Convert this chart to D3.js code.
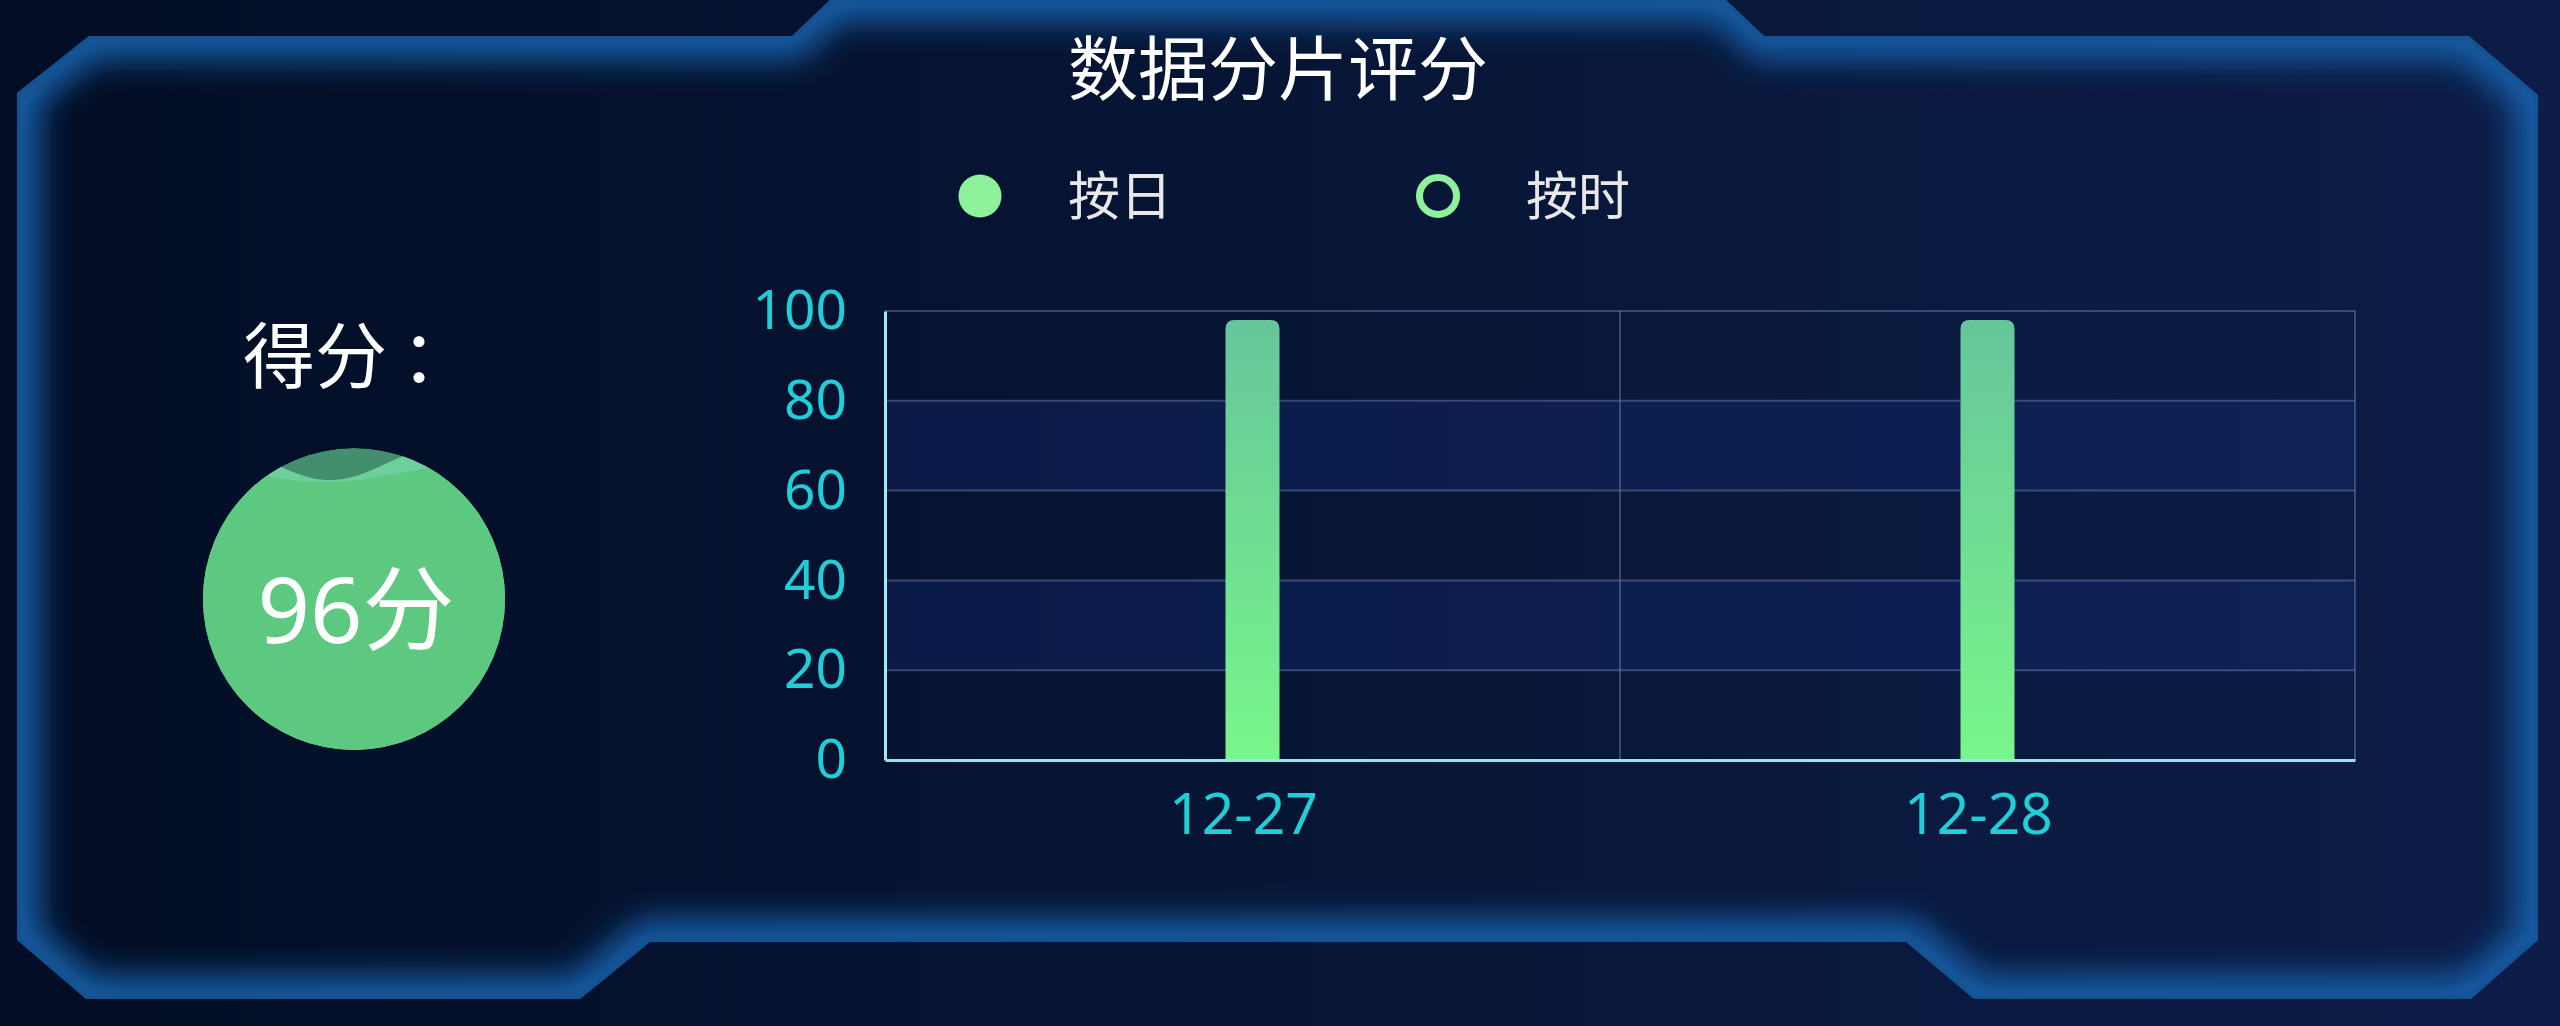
<!DOCTYPE html>
<html>
<head>
<meta charset="utf-8">
<script src="https://cdn.jsdelivr.net/npm/d3@7/dist/d3.min.js"></script>
<style>
  html, body { margin: 0; padding: 0; background: #061231; overflow: hidden; }
  svg { display: block; }
</style>
</head>
<body>
<script>
// ---------- data ----------
const chartTitle = "数据分片评分";
const legendNames = ["按日", "按时"];
const categories = ["12-27", "12-28"];
const dailyValues = [98, 98];
const hourlyValues = [];
const yTicks = [0, 20, 40, 60, 80, 100];
const scoreWord = "得分";
const scoreColon = "：";
const score = 96;

// ---------- setup ----------
const W = 2560, H = 1026;
const svg = d3.select("body").append("svg").attr("width", W).attr("height", H);
const defs = svg.append("defs");

const bg = defs.append("linearGradient").attr("id", "bgGrad")
  .attr("x1", 0).attr("y1", 0).attr("x2", 1).attr("y2", 0);
bg.append("stop").attr("offset", "0%").attr("stop-color", "#030d25");
bg.append("stop").attr("offset", "50%").attr("stop-color", "#071535");
bg.append("stop").attr("offset", "100%").attr("stop-color", "#0d1d48");

svg.append("rect").attr("width", W).attr("height", H).attr("fill", "url(#bgGrad)");

// frame outline
const framePts = [
  [17, 93], [89, 36], [792, 36], [832, -2], [1724, -2], [1764, 36], [2469, 36], [2538, 95],
  [2538, 940], [2471, 999], [1974, 999], [1906, 942], [650, 942], [580, 999], [86, 999], [17, 940]
];
const framePath = "M" + framePts.map(p => p.join(",")).join("L") + "Z";
defs.append("clipPath").attr("id", "frameClip").append("path").attr("d", framePath);
const blur = defs.append("filter").attr("id", "glowBlur")
  .attr("x", "-10%").attr("y", "-10%").attr("width", "120%").attr("height", "120%");
blur.append("feGaussianBlur").attr("stdDeviation", 16);

const glowG = svg.append("g").attr("clip-path", "url(#frameClip)");
glowG.append("path").attr("d", framePath).attr("fill", "none")
  .attr("stroke", "#155fa8").attr("stroke-width", 46).attr("filter", "url(#glowBlur)");
glowG.append("path").attr("d", framePath).attr("fill", "none")
  .attr("stroke", "#12528f").attr("stroke-width", 8).attr("opacity", 0.6);

// title
const cjk = "'Microsoft YaHei','Noto Sans CJK SC',sans-serif";
const latin = "'Noto Sans','Noto Sans CJK SC',sans-serif";
svg.append("text").attr("x", 1278).attr("y", 95).attr("text-anchor", "middle")
  .attr("font-family", cjk).attr("font-size", 70).attr("fill", "#ffffff").text(chartTitle);

// legend
const legendX = d3.scaleOrdinal().domain(legendNames).range([980, 1438]);
const legG = svg.append("g");
legendNames.forEach((name, i) => {
  const cx = legendX(name);
  if (i === 0) {
    legG.append("circle").attr("cx", cx).attr("cy", 196).attr("r", 21.5).attr("fill", "#8ef29c");
  } else {
    legG.append("circle").attr("cx", cx).attr("cy", 196).attr("r", 18.5)
      .attr("fill", "none").attr("stroke", "#8ef29c").attr("stroke-width", 7);
  }
  legG.append("text").attr("x", cx + 88).attr("y", 215)
    .attr("font-family", cjk).attr("font-size", 52).attr("fill", "#e8e8e8").text(name);
});

// score label
const scoreText = svg.append("text").attr("x", 243).attr("y", 382)
  .attr("font-family", cjk).attr("font-size", 72).attr("fill", "#ffffff");
scoreText.append("tspan").text(scoreWord);
scoreText.append("tspan").attr("dx", 14).text(scoreColon);

// liquid ball
const ball = { cx: 354, cy: 599, r: 151 };
defs.append("clipPath").attr("id", "ballClip").append("circle")
  .attr("cx", ball.cx).attr("cy", ball.cy).attr("r", ball.r);
const level = ball.cy + ball.r - (score / 100) * 2 * ball.r;
const waveXs = d3.range(ball.cx - ball.r - 2, ball.cx + ball.r + 3, 2);
const waveArea = (fn) => d3.area().x(d => d).y0(ball.cy + ball.r + 5).y1(fn).curve(d3.curveBasis)(waveXs);
const ballG = svg.append("g").attr("clip-path", "url(#ballClip)");
ballG.append("circle").attr("cx", ball.cx).attr("cy", ball.cy).attr("r", ball.r).attr("fill", "#438f6d");
ballG.append("path").attr("fill", "#6ccf9c")
  .attr("d", waveArea(x => level + 4 + 16 * Math.cos(2 * Math.PI * (x - 330) / 220)));
ballG.append("path").attr("fill", "#5dc87f")
  .attr("d", waveArea(x => level + 13 + 9 * Math.cos(2 * Math.PI * (x - 325) / 300)));
svg.append("text").attr("x", ball.cx + 2).attr("y", 643).attr("text-anchor", "middle")
  .attr("font-family", latin).attr("font-size", 92).attr("fill", "#ffffff").text(`${score}分`);

// ---------- bar chart ----------
const plot = { left: 885, right: 2355, top: 311, bottom: 760 };
const x = d3.scaleBand().domain(categories).range([plot.left, plot.right]).padding(0);
const y = d3.scaleLinear().domain([0, 100]).range([plot.bottom, plot.top]);

// split areas
const chartG = svg.append("g");
for (let i = 0; i < yTicks.length - 1; i++) {
  if (i % 2 === 1) {
    chartG.append("rect").attr("x", plot.left).attr("width", plot.right - plot.left)
      .attr("y", y(yTicks[i + 1])).attr("height", y(yTicks[i]) - y(yTicks[i + 1]))
      .attr("fill", "rgba(22,48,125,0.32)");
  }
}
// horizontal grid lines
chartG.selectAll("line.hgrid").data(yTicks.filter(t => t > 0)).enter().append("line")
  .attr("class", "hgrid").attr("x1", plot.left).attr("x2", plot.right)
  .attr("y1", d => y(d)).attr("y2", d => y(d))
  .attr("stroke", "rgba(125,140,180,0.42)").attr("stroke-width", 2);
// vertical split lines at category boundaries
chartG.selectAll("line.vgrid").data(categories).enter().append("line")
  .attr("class", "vgrid").attr("x1", d => x(d) + x.bandwidth()).attr("x2", d => x(d) + x.bandwidth())
  .attr("y1", plot.top).attr("y2", plot.bottom)
  .attr("stroke", "rgba(125,140,180,0.42)").attr("stroke-width", 2);

// bars
defs.append("linearGradient").attr("id", "barGrad").attr("x1", 0).attr("y1", 0).attr("x2", 0).attr("y2", 1)
  .call(g => {
    g.append("stop").attr("offset", "0%").attr("stop-color", "#66c69b");
    g.append("stop").attr("offset", "100%").attr("stop-color", "#79f68a");
  });
const barW = 54, rad = 9;
function barPath(x0, y0, w, h, r) {
  return `M${x0},${y0 + h}V${y0 + r}Q${x0},${y0} ${x0 + r},${y0}H${x0 + w - r}Q${x0 + w},${y0} ${x0 + w},${y0 + r}V${y0 + h}Z`;
}
chartG.selectAll("path.bar").data(categories.map((c, i) => ({ c, v: dailyValues[i] }))).enter()
  .append("path").attr("class", "bar").attr("fill", "url(#barGrad)")
  .attr("d", d => {
    const x0 = x(d.c) + x.bandwidth() / 2 - barW / 2;
    const y0 = y(d.v);
    return barPath(x0, y0, barW, plot.bottom - y0, rad);
  });

// axes
const yAxis = d3.axisLeft(y).tickValues(yTicks).tickSize(0).tickPadding(38).tickSizeOuter(0);
const yG = svg.append("g").attr("transform", `translate(${plot.left},0)`).call(yAxis);
yG.select(".domain").attr("stroke", "#a6e8f2").attr("stroke-width", 3);
yG.selectAll("text").attr("fill", "#1fcfd8").attr("font-family", latin).attr("font-size", 55);

const xAxis = d3.axisBottom(x).tickSize(0).tickPadding(34).tickSizeOuter(0);
const xG = svg.append("g").attr("transform", `translate(0,${plot.bottom})`).call(xAxis);
xG.select(".domain").attr("stroke", "#98e2ef").attr("stroke-width", 3);
xG.selectAll("text").attr("fill", "#1fcfd8").attr("font-family", latin).attr("font-size", 57).attr("dx", -9);
</script>
</body>
</html>
